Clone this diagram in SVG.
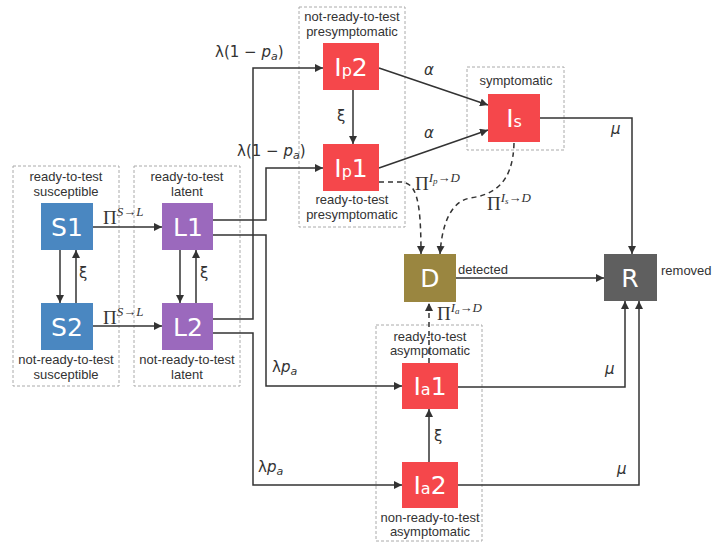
<svg xmlns="http://www.w3.org/2000/svg" width="712" height="544" viewBox="0 0 712 544">
<defs>
<marker id="ah" viewBox="0 0 10 10" refX="10" refY="5" markerWidth="8" markerHeight="8" markerUnits="userSpaceOnUse" orient="auto"><path d="M0,0 L10,5 L0,10 Z" fill="#333"/></marker>
</defs>
<style>
.grp{fill:none;stroke:#aaa;stroke-width:1;stroke-dasharray:3,2}
.lbl{font-family:"Liberation Sans",Arial,sans-serif;font-size:13px;fill:#333;text-anchor:middle}
.bx{font-family:"DejaVu Sans",sans-serif;font-size:25px;fill:#fff;text-anchor:middle}
.sub{font-size:16px}
.c{fill:none;stroke:#333;stroke-width:1.5;marker-end:url(#ah)}
.d{fill:none;stroke:#333;stroke-width:1.5;stroke-dasharray:5,4;marker-end:url(#ah)}
.m{font-family:"Liberation Serif","Times New Roman",serif;font-size:19px;fill:#333}
.ms{font-family:"Liberation Serif","Times New Roman",serif;font-size:13px;font-style:italic;fill:#333}
.g{font-family:"DejaVu Sans",sans-serif;font-size:15px;fill:#333}
.gi{font-family:"DejaVu Sans",sans-serif;font-size:15px;font-style:italic;fill:#333}
.S{fill:#4a87c1}.L{fill:#9b69bd}.I{fill:#f5474b}.D{fill:#9a8640}.R{fill:#5f5f5f}
</style>
<rect width="712" height="544" fill="#fff"/>
<g id="groups">
<rect class="grp" x="13" y="166" width="106" height="220"/>
<rect class="grp" x="134" y="166" width="106" height="220"/>
<rect class="grp" x="299" y="7" width="106" height="220"/>
<rect class="grp" x="467" y="67" width="97" height="83"/>
<rect class="grp" x="376" y="325" width="106" height="216"/>
</g>
<g id="connectors">
<path class="c" d="M93,227 L162,227"/>
<path class="c" d="M93,326 L162,326"/>
<path class="c" d="M60,250 L60,303"/>
<path class="c" d="M76,303 L76,250"/>
<path class="c" d="M180,250 L180,303"/>
<path class="c" d="M196,303 L196,250"/>
<path class="c" d="M213,220 L266,220 L266,168 L323,168"/>
<path class="c" d="M213,235 L266,235 L266,386 L402,386"/>
<path class="c" d="M213,319 L253,319 L253,68 L323,68"/>
<path class="c" d="M213,333 L253,333 L253,485 L402,485"/>
<path class="c" d="M353,90 L353,144"/>
<path class="c" d="M379,68 L488,105"/>
<path class="c" d="M379,168 L488,130"/>
<path class="c" d="M540,118 L632,118 L632,254"/>
<path class="c" d="M456,278 L604,278"/>
<path class="c" d="M429,462 L429,409"/>
<path class="c" d="M458,387 L625,387 L625,301"/>
<path class="c" d="M458,485 L639,485 L639,301"/>
<path class="d" d="M429,363 L429,303"/>
<path class="d" d="M379,182 L400,182 C416,182 421,198 421,254"/>
<path class="d" d="M514,143 C513,185 492,195 470,198 C450,202 442,225 440,254"/>
</g>
<g id="S1"><rect class="S" x="41" y="203" width="52" height="47"/><text class="bx" x="67" y="236">S1</text>
<text class="lbl" x="66" y="181">ready-to-test</text><text class="lbl" x="66" y="196">susceptible</text></g>
<g id="S2"><rect class="S" x="41" y="303" width="52" height="47"/><text class="bx" x="67" y="336">S2</text>
<text class="lbl" x="66" y="364">not-ready-to-test</text><text class="lbl" x="66" y="379">susceptible</text></g>
<g id="L1"><rect class="L" x="162" y="203" width="51" height="47"/><text class="bx" x="188" y="236">L1</text>
<text class="lbl" x="187" y="181">ready-to-test</text><text class="lbl" x="187" y="196">latent</text></g>
<g id="L2"><rect class="L" x="162" y="303" width="51" height="47"/><text class="bx" x="188" y="336">L2</text>
<text class="lbl" x="187" y="364">not-ready-to-test</text><text class="lbl" x="187" y="379">latent</text></g>
<g id="Ip2"><rect class="I" x="323" y="43" width="56" height="47"/><text class="bx" x="351" y="76">I<tspan class="sub">p</tspan>2</text>
<text class="lbl" x="352" y="21">not-ready-to-test</text><text class="lbl" x="352" y="36">presymptomatic</text></g>
<g id="Ip1"><rect class="I" x="323" y="144" width="56" height="47"/><text class="bx" x="351" y="177">I<tspan class="sub">p</tspan>1</text>
<text class="lbl" x="352" y="204">ready-to-test</text><text class="lbl" x="352" y="219">presymptomatic</text></g>
<g id="Is"><rect class="I" x="488" y="94" width="52" height="48"/><text class="bx" x="514" y="127">I<tspan class="sub">s</tspan></text>
<text class="lbl" x="516" y="85">symptomatic</text></g>
<g id="D"><rect class="D" x="404" y="254" width="52" height="48"/><text class="bx" x="430" y="287">D</text>
<text class="lbl" x="458" y="274" style="text-anchor:start">detected</text></g>
<g id="R"><rect class="R" x="604" y="254" width="53" height="47"/><text class="bx" x="630" y="287">R</text>
<text class="lbl" x="661" y="275" style="text-anchor:start">removed</text></g>
<g id="Ia1"><rect class="I" x="402" y="363" width="56" height="46"/><text class="bx" x="430" y="395">I<tspan class="sub">a</tspan>1</text>
<text class="lbl" x="430" y="341">ready-to-test</text><text class="lbl" x="430" y="355">asymptomatic</text></g>
<g id="Ia2"><rect class="I" x="402" y="462" width="56" height="46"/><text class="bx" x="430" y="494">I<tspan class="sub">a</tspan>2</text>
<text class="lbl" x="430" y="522">non-ready-to-test</text><text class="lbl" x="430" y="536">asymptomatic</text></g>
<g id="labels">
<text class="m" x="103" y="224">Π<tspan class="ms" dy="-8">S→L</tspan></text>
<text class="m" x="103" y="324">Π<tspan class="ms" dy="-8">S→L</tspan></text>
<text class="g" x="79" y="278">ξ</text>
<text class="g" x="200" y="278">ξ</text>
<text class="g" x="337" y="121">ξ</text>
<text class="g" x="434" y="441">ξ</text>
<text class="gi" x="424" y="75">α</text>
<text class="gi" x="424" y="138">α</text>
<text class="gi" x="611" y="134">μ</text>
<text class="gi" x="605" y="374">μ</text>
<text class="gi" x="617" y="474">μ</text>
<text class="g" x="215" y="57">λ(1 − <tspan font-style="italic">p</tspan><tspan font-size="11" font-style="italic" dy="3">a</tspan><tspan dy="-3">)</tspan></text>
<text class="g" x="237" y="156">λ(1 − <tspan font-style="italic">p</tspan><tspan font-size="11" font-style="italic" dy="3">a</tspan><tspan dy="-3">)</tspan></text>
<text class="g" x="272" y="372">λ<tspan font-style="italic">p</tspan><tspan font-size="11" font-style="italic" dy="3">a</tspan></text>
<text class="g" x="258" y="472">λ<tspan font-style="italic">p</tspan><tspan font-size="11" font-style="italic" dy="3">a</tspan></text>
<text class="m" x="415" y="190">Π<tspan class="ms" dy="-8">I<tspan font-size="9" dy="2">p</tspan><tspan dy="-2">→D</tspan></tspan></text>
<text class="m" x="487" y="210">Π<tspan class="ms" dy="-8">I<tspan font-size="9" dy="2">s</tspan><tspan dy="-2">→D</tspan></tspan></text>
<text class="m" x="437" y="320">Π<tspan class="ms" dy="-8">I<tspan font-size="9" dy="2">a</tspan><tspan dy="-2">→D</tspan></tspan></text>
</g>
</svg>
